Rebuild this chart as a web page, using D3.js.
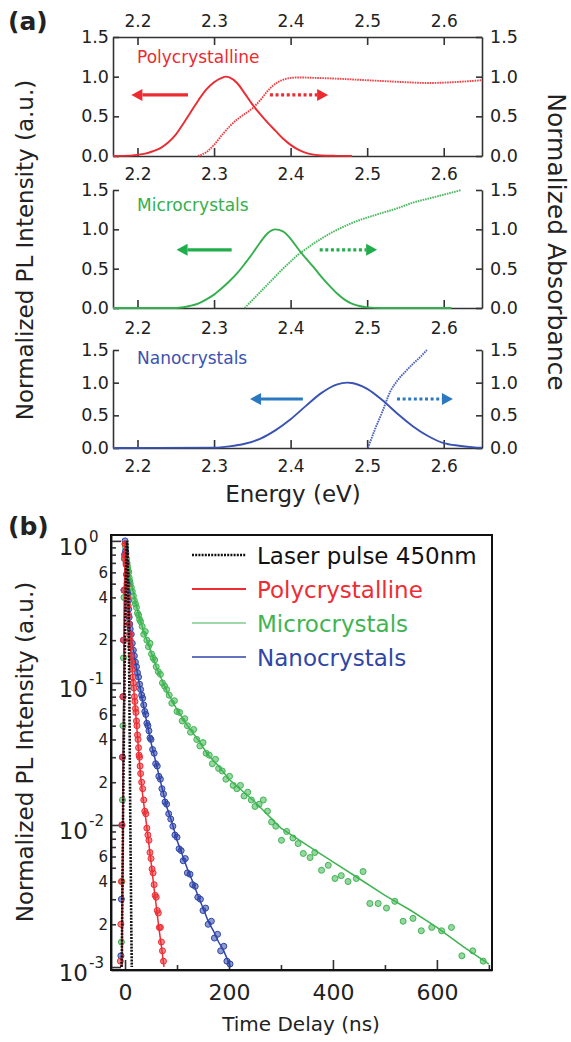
<!DOCTYPE html>
<meta charset="utf-8">
<script src="https://d3js.org/d3.v7.min.js"></script>
<style>
  body { margin: 0; background: #fff; }
  text { font-family: "DejaVu Sans", sans-serif; }
</style>
<body>
<div id="chart"></div>
<script>
// ---------- panel (a): energy (eV) vs normalized PL / absorbance ----------
const energyTicks = [2.2, 2.3, 2.4, 2.5, 2.6];
const valueTicks = [0, 0.5, 1.0, 1.5];

const polyPL = [[2.168,0],[2.19,0.005],[2.20,0.015],[2.21,0.03],[2.22,0.06],[2.23,0.1],[2.24,0.17],[2.25,0.27],
  [2.26,0.41],[2.27,0.56],[2.28,0.71],[2.29,0.84],[2.30,0.93],[2.31,0.985],[2.315,1.0],[2.32,0.99],[2.33,0.92],
  [2.34,0.79],[2.35,0.65],[2.36,0.53],[2.37,0.42],[2.38,0.32],[2.39,0.22],[2.40,0.14],[2.41,0.08],[2.42,0.04],
  [2.43,0.018],[2.44,0.007],[2.46,0.002],[2.48,0]];
const polyAbs = [[2.279,0],[2.29,0.05],[2.30,0.14],[2.31,0.26],[2.32,0.37],[2.33,0.46],[2.34,0.53],[2.35,0.6],
  [2.36,0.7],[2.37,0.82],[2.38,0.91],[2.39,0.96],[2.40,0.985],[2.41,0.99],[2.43,0.985],[2.46,0.975],[2.49,0.96],
  [2.52,0.945],[2.55,0.93],[2.58,0.92],[2.60,0.925],[2.62,0.935],[2.65,0.955]];

const microPL = [[2.168,0],[2.25,0],[2.26,0.01],[2.27,0.03],[2.28,0.06],[2.29,0.11],[2.30,0.17],[2.31,0.25],
  [2.32,0.34],[2.33,0.44],[2.34,0.56],[2.35,0.69],[2.36,0.83],[2.37,0.95],[2.38,1.0],[2.39,0.975],[2.40,0.88],
  [2.41,0.75],[2.42,0.63],[2.43,0.52],[2.44,0.4],[2.45,0.29],[2.46,0.19],[2.47,0.11],[2.48,0.055],[2.49,0.025],
  [2.50,0.008],[2.52,0],[2.61,0]];
const microAbs = [[2.34,0],[2.35,0.1],[2.36,0.2],[2.37,0.3],[2.38,0.4],[2.39,0.5],[2.40,0.59],[2.41,0.68],
  [2.42,0.75],[2.43,0.82],[2.44,0.88],[2.45,0.94],[2.46,0.99],[2.48,1.08],[2.50,1.15],[2.52,1.21],[2.54,1.27],
  [2.56,1.34],[2.58,1.39],[2.60,1.44],[2.623,1.5]];

const nanoPL = [[2.168,0],[2.30,0.005],[2.32,0.025],[2.34,0.065],[2.36,0.14],[2.38,0.27],[2.40,0.44],[2.42,0.645],
  [2.44,0.84],[2.46,0.97],[2.474,1.0],[2.48,0.995],[2.50,0.905],[2.52,0.73],[2.54,0.52],[2.56,0.33],[2.58,0.18],
  [2.60,0.075],[2.62,0.035],[2.64,0.01],[2.65,0.005]];
const nanoAbs = [[2.501,0],[2.51,0.28],[2.52,0.56],[2.53,0.86],[2.54,1.04],[2.55,1.17],[2.56,1.29],[2.57,1.4],[2.578,1.5]];

const sampleNames = ["Polycrystalline", "Microcrystals", "Nanocrystals"];
const plSeries = [polyPL, microPL, nanoPL];
const absSeries = [polyAbs, microAbs, nanoAbs];
// arrows [tail eV, tip eV, value]
const plArrows = [[2.266, 2.192, 0.77], [2.323, 2.251, 0.74], [2.416, 2.347, 0.75]];
const absArrows = [[2.373, 2.449, 0.77], [2.438, 2.513, 0.74], [2.539, 2.612, 0.75]];

// ---------- panel (b): PL decay ----------
const timeTicks = [0, 200, 400, 600];
const timeMinor = [100, 300, 500, 700];
const decades = [1, 0.1, 0.01, 0.001];
const decadeExp = ["0", "-1", "-2", "-3"];
const minorMult = [2, 3, 4, 5, 6, 7, 8, 9];
const minorLabelled = [2, 4, 6];

const laser = [[-7,0.001],[-6,0.0013],[-5,0.0035],[-4,0.01],[-3,0.022],[-2,0.05],[-1,0.1],[0,0.2],[1,0.38],
  [2,0.62],[3,0.88],[4,1.0],[5,0.85],[6,0.55],[7,0.3],[8,0.12],[9,0.04],[10,0.012],[11,0.005],[12,0.002],[13,0.001]];

const polyFit = [[-6,0.001],[-4,0.012],[-2,0.15],[0,1.0],[3,0.6],[6,0.35],[9,0.22],[12,0.15],[15,0.11],[18,0.08],
  [21,0.058],[24,0.042],[27,0.03],[30,0.022],[35,0.015],[40,0.011],[45,0.0078],[50,0.0055],[55,0.0038],
  [60,0.0027],[65,0.0019],[70,0.0014],[75,0.001]];
const polyPts = [[-9,0.0011],[-8,0.002],[-7,0.004],[-6,0.01],[-5,0.03],[-4,0.08],[-3,0.2],[-2,0.45],[-1,0.75],
  [0,0.95],[1,0.8],[2,0.68],[3,0.58],[4,0.48],[5,0.4],[6,0.35],[7,0.3],[8,0.26],[9,0.22],[10,0.2],[11,0.18],
  [12,0.155],[13,0.14],[14,0.125],[15,0.11],[16,0.1],[17,0.092],[18,0.08],[19,0.074],[20,0.066],[21,0.062],
  [22,0.054],[23,0.05],[24,0.043],[25,0.04],[26,0.035],[27,0.031],[28,0.03],[29,0.026],[30,0.023],[32,0.02],
  [34,0.018],[36,0.015],[38,0.0125],[40,0.012],[42,0.0095],[44,0.0085],[46,0.0078],[48,0.0064],[50,0.0058],
  [52,0.0049],[54,0.0046],[56,0.0038],[58,0.0032],[60,0.0031],[62,0.0025],[64,0.0024],[66,0.0019],[68,0.0019],
  [70,0.0015],[72,0.0013],[74,0.0011]];

const microFit = [[-6,0.001],[-4,0.012],[-2,0.15],[0,1.0],[5,0.7],[10,0.55],[15,0.45],[20,0.37],[30,0.27],
  [40,0.21],[50,0.165],[60,0.13],[80,0.088],[100,0.065],[120,0.05],[140,0.04],[160,0.031],[180,0.026],
  [200,0.021],[250,0.0145],[300,0.0095],[350,0.0072],[400,0.0055],[450,0.0042],[500,0.0032],[550,0.0025],
  [600,0.0019],[650,0.0014],[700,0.00105]];
const microPts = [[-7,0.0015],[-6,0.004],[-5,0.015],[-4,0.05],[-3,0.15],[-2,0.4],[-1,0.75],[0,0.95],[1,0.9],
  [2,0.82],[3,0.75],[4,0.7],[5,0.66],[6,0.62],[7,0.6],[8,0.55],[9,0.52],[10,0.5],[12,0.47],[14,0.44],[16,0.41],
  [18,0.38],[20,0.36],[22,0.34],[24,0.31],[26,0.3],[28,0.28],[30,0.27],[33,0.25],[36,0.22],[39,0.23],[42,0.2],
  [45,0.18],[48,0.19],[51,0.16],[54,0.15],[57,0.145],[60,0.13],[64,0.12],[68,0.115],[72,0.1],[76,0.095],
  [80,0.09],[85,0.082],[90,0.072],[95,0.075],[100,0.063],[105,0.062],[110,0.054],[115,0.056],[120,0.05],
  [126,0.045],[132,0.047],[138,0.04],[144,0.036],[150,0.038],[156,0.032],[162,0.031],[168,0.027],[174,0.029],
  [180,0.025],[187,0.024],[194,0.021],[201,0.022],[208,0.019],[215,0.018],[222,0.019],[229,0.016],[236,0.017],
  [243,0.015],[250,0.0135],[258,0.014],[266,0.015],[274,0.0125],[282,0.0105],[290,0.0098],[301,0.0078],
  [311,0.009],[323,0.0081],[333,0.0074],[343,0.0063],[356,0.0059],[365,0.0064],[378,0.0048],[391,0.0052],
  [404,0.0042],[416,0.0044],[429,0.004],[445,0.0042],[458,0.0047],[471,0.0028],[487,0.0028],[503,0.0026],
  [519,0.0029],[535,0.0021],[554,0.0022],[570,0.0018],[590,0.0019],[609,0.0018],[628,0.0019],[648,0.0012],
  [669,0.0013],[689,0.0011]];

const nanoFit = [[-6,0.001],[-4,0.012],[-2,0.15],[0,1.0],[3,0.6],[6,0.38],[10,0.24],[15,0.18],[20,0.14],
  [30,0.088],[40,0.057],[50,0.038],[60,0.027],[70,0.019],[80,0.0135],[90,0.0105],[100,0.0078],[110,0.0062],
  [120,0.0049],[130,0.004],[140,0.0032],[150,0.0026],[160,0.0021],[170,0.0018],[180,0.0015],[190,0.0013],
  [203,0.001]];
const nanoPts = [[-8,0.0012],[-7,0.003],[-6,0.01],[-5,0.03],[-4,0.08],[-3,0.2],[-2,0.45],[-1,0.8],[0,1.0],
  [1,0.85],[2,0.7],[3,0.58],[4,0.5],[5,0.43],[6,0.38],[7,0.33],[8,0.29],[9,0.26],[10,0.24],[12,0.22],[14,0.19],
  [16,0.17],[18,0.155],[20,0.14],[22,0.13],[24,0.118],[26,0.11],[28,0.098],[30,0.09],[32,0.082],[34,0.078],
  [36,0.07],[38,0.063],[40,0.06],[42,0.052],[44,0.05],[46,0.046],[48,0.041],[50,0.04],[53,0.034],[56,0.032],
  [59,0.027],[62,0.026],[65,0.022],[68,0.021],[71,0.018],[74,0.0165],[77,0.0145],[80,0.014],[84,0.012],
  [88,0.011],[92,0.0098],[96,0.0085],[100,0.0082],[104,0.0068],[108,0.0066],[112,0.0056],[116,0.0058],
  [120,0.0046],[125,0.0045],[130,0.0038],[135,0.0037],[140,0.0031],[145,0.003],[150,0.0025],[155,0.0026],
  [160,0.002],[166,0.0021],[172,0.0016],[178,0.0017],[184,0.0013],[190,0.0014],[196,0.0011],[202,0.00105]];

const legendLabels = ["Laser pulse 450nm", "Polycrystalline", "Microcrystals", "Nanocrystals"];

const plColors = ["#ec2a31", "#33b04d", "#3a52b2"];
const arrowColors = ["#ec2a31", "#1fae4b", "#2a78c0"];
const decayColors = ["#111111", "#ee2c33", "#3fb452", "#2f45a8"];

// ---------- drawing ----------
const svg = d3.select("#chart").append("svg").attr("width", 571).attr("height", 1042);
svg.append("rect").attr("width", 571).attr("height", 1042).attr("fill", "#fff");

const axisColor = "#333";
const styleAxis = (g, size) => {
  g.attr("font-family", "DejaVu Sans").attr("font-size", size);
  g.select(".domain").attr("stroke", axisColor).attr("stroke-width", 1.6);
  g.selectAll(".tick line").attr("stroke", axisColor).attr("stroke-width", 1.6);
  g.selectAll(".tick text").attr("fill", "#222");
};

const ex = d3.scaleLinear().domain([2.168, 2.65]).range([113, 482]);
const rows = [
  {top: 37, bottom: 156, box: true, pad: 12},
  {top: 190, bottom: 308, box: false, pad: 14},
  {top: 350, bottom: 448, box: false, pad: 12}
];

const drawArrow = (g, x0, x1, y, color, dotted) => {
  const dir = Math.sign(x1 - x0);
  const head = 11;
  g.append("line")
    .attr("x1", x0).attr("x2", x1 - dir * head)
    .attr("y1", y).attr("y2", y)
    .attr("stroke", color).attr("stroke-width", 3.2)
    .attr("stroke-dasharray", dotted ? "3,2.6" : null);
  g.append("path")
    .attr("d", `M${x1},${y}L${x1 - dir * head},${y - 6}L${x1 - dir * head},${y + 6}Z`)
    .attr("fill", color);
};

rows.forEach((r, i) => {
  const ey = d3.scaleLinear().domain([0, 1.5]).range([r.bottom, r.top]);
  const g = svg.append("g");

  const gl = g.append("g").attr("transform", `translate(${ex.range()[0]},0)`)
    .call(d3.axisLeft(ey).tickValues(valueTicks).tickFormat(d3.format(".1f"))
      .tickSizeInner(-6).tickSizeOuter(0).tickPadding(4));
  styleAxis(gl, 17.5);
  const gr = g.append("g").attr("transform", `translate(${ex.range()[1]},0)`)
    .call(d3.axisRight(ey).tickValues(valueTicks).tickFormat(d3.format(".1f"))
      .tickSizeInner(-6).tickSizeOuter(0).tickPadding(8));
  styleAxis(gr, 17.5);
  const gb = g.append("g").attr("transform", `translate(0,${r.bottom})`)
    .call(d3.axisBottom(ex).tickValues(energyTicks).tickFormat(d3.format(".1f"))
      .tickSizeInner(-8).tickSizeOuter(0).tickPadding(r.pad));
  styleAxis(gb, 17);
  if (r.box) {
    const gt = g.append("g").attr("transform", `translate(0,${r.top})`)
      .call(d3.axisTop(ex).tickValues(energyTicks).tickFormat(d3.format(".1f"))
        .tickSizeInner(-8).tickSizeOuter(0).tickPadding(10));
    styleAxis(gt, 17);
  }

  const line = d3.line().x(d => ex(d[0])).y(d => ey(d[1])).curve(d3.curveMonotoneX);
  g.append("path").datum(absSeries[i]).attr("d", line)
    .attr("fill", "none").attr("stroke", plColors[i]).attr("stroke-width", 1.9)
    .attr("stroke-dasharray", "1.6,0.9").attr("opacity", 0.9);
  g.append("path").datum(plSeries[i]).attr("d", line)
    .attr("fill", "none").attr("stroke", plColors[i]).attr("stroke-width", 1.9);

  const a = plArrows[i], b = absArrows[i];
  drawArrow(g, ex(a[0]), ex(a[1]), ey(a[2]), arrowColors[i], false);
  drawArrow(g, ex(b[0]), ex(b[1]), ey(b[2]), arrowColors[i], true);

  g.append("text").attr("x", 137).attr("y", [63, 211, 364][i])
    .attr("font-size", 17).attr("fill", plColors[i]).text(sampleNames[i]);
});

svg.append("text").attr("x", 8).attr("y", 30).attr("font-size", 25).attr("font-weight", "bold")
  .attr("fill", "#222").text("(a)");
svg.append("text").attr("transform", "translate(33,250) rotate(-90)").attr("text-anchor", "middle")
  .attr("font-size", 23).attr("fill", "#222").text("Normalized PL Intensity (a.u.)");
svg.append("text").attr("transform", "translate(548,242) rotate(90)").attr("text-anchor", "middle")
  .attr("font-size", 25).attr("fill", "#222").text("Normalized Absorbance");
svg.append("text").attr("x", 293).attr("y", 502).attr("text-anchor", "middle")
  .attr("font-size", 23).attr("fill", "#222").text("Energy (eV)");

// ---------- panel (b) ----------
const tx = d3.scaleLinear().domain([-27, 706]).range([111, 492]);
const ty = d3.scaleLog().domain([0.000953, 1.10]).range([970, 535]);
const gb2 = svg.append("g");

const clipId = "plotclip";
svg.append("clipPath").attr("id", clipId).append("rect")
  .attr("x", 111).attr("y", 535).attr("width", 381).attr("height", 435);

const minorVals = decades.flatMap(d => minorMult.map(m => m * d)).filter(v => v < 1.1 && v > 0.000953);

const axX = gb2.append("g").attr("transform", "translate(0,970)")
  .call(d3.axisBottom(tx).tickValues(timeTicks).tickFormat(d3.format("d"))
    .tickSizeInner(-10).tickSizeOuter(0).tickPadding(14));
styleAxis(axX, 22);
const axXm = gb2.append("g").attr("transform", "translate(0,970)")
  .call(d3.axisBottom(tx).tickValues(timeMinor).tickFormat("").tickSizeInner(-5).tickSizeOuter(0));
styleAxis(axXm, 10);

const axY = gb2.append("g").attr("transform", "translate(111,0)")
  .call(d3.axisLeft(ty).tickValues(decades).tickFormat("").tickSizeInner(-10).tickSizeOuter(0));
styleAxis(axY, 10);
const axYm = gb2.append("g").attr("transform", "translate(111,0)")
  .call(d3.axisLeft(ty).tickValues(minorVals)
    .tickFormat(v => {
      const m = Math.round(v / Math.pow(10, Math.floor(Math.log10(v) + 1e-9)));
      return minorLabelled.includes(m) ? String(m) : "";
    })
    .tickSizeInner(-5).tickSizeOuter(0).tickPadding(3));
styleAxis(axYm, 15);

decades.forEach((d, i) => {
  gb2.append("text").attr("x", 88).attr("y", ty(d) + 14)
    .attr("text-anchor", "end").attr("font-size", 23).attr("fill", "#222").text("10");
  gb2.append("text").attr("x", 89).attr("y", ty(d) + 1)
    .attr("font-size", 15).attr("fill", "#222").text(decadeExp[i]);
});

const plot = svg.append("g").attr("clip-path", `url(#${clipId})`);
const dline = d3.line().x(d => tx(d[0])).y(d => ty(d[1]));

[[microPts, microFit, 2], [nanoPts, nanoFit, 3], [polyPts, polyFit, 1]].forEach(([pts, fit, c]) => {
  plot.append("g").selectAll("circle").data(pts).join("circle")
    .attr("cx", d => tx(d[0])).attr("cy", d => ty(d[1])).attr("r", 3)
    .attr("fill", decayColors[c]).attr("fill-opacity", 0.55)
    .attr("stroke", decayColors[c]).attr("stroke-width", 1);
  plot.append("path").datum(fit).attr("d", dline)
    .attr("fill", "none").attr("stroke", decayColors[c]).attr("stroke-width", 1.5);
});
plot.append("path").datum(laser).attr("d", dline)
  .attr("fill", "none").attr("stroke", decayColors[0]).attr("stroke-width", 2.6)
  .attr("stroke-dasharray", "2,1.2");

gb2.append("rect").attr("x", 111).attr("y", 535).attr("width", 381).attr("height", 435)
  .attr("fill", "none").attr("stroke", "#111").attr("stroke-width", 2);

// legend
const legW = [2.6, 2, 1.2, 1.5];
legendLabels.forEach((lab, i) => {
  const yc = 555 + i * 34;
  gb2.append("line").attr("x1", 192).attr("x2", 246).attr("y1", yc).attr("y2", yc)
    .attr("stroke", decayColors[i]).attr("stroke-width", legW[i])
    .attr("stroke-dasharray", i === 0 ? "2,1.2" : null);
  gb2.append("text").attr("x", 257).attr("y", yc + 9).attr("font-size", 23)
    .attr("fill", i === 0 ? "#111" : decayColors[i]).text(lab);
});

svg.append("text").attr("x", 8).attr("y", 535).attr("font-size", 25).attr("font-weight", "bold")
  .attr("fill", "#222").text("(b)");
svg.append("text").attr("transform", "translate(33,752) rotate(-90)").attr("text-anchor", "middle")
  .attr("font-size", 23).attr("fill", "#222").text("Normalized PL Intensity (a.u.)");
svg.append("text").attr("x", 301).attr("y", 1031).attr("text-anchor", "middle")
  .attr("font-size", 20).attr("fill", "#222").text("Time Delay (ns)");
</script>
</body>
